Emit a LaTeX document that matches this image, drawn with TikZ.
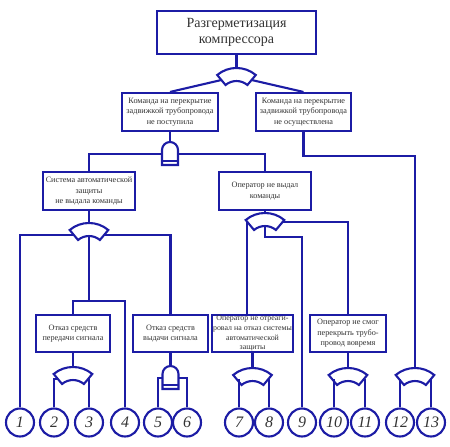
\documentclass[tikz,border=0pt]{standalone}
\usepackage{fontspec}
\setmainfont{Liberation Serif}
\definecolor{treeblue}{RGB}{28,28,165}

\begin{document}
\begin{tikzpicture}[x=1pt, y=1pt,
    wire/.style={
        draw=treeblue,
        line width=2.1pt
    },
    event/.style={
        wire,
        fill=white,
        minimum height=38pt,
        inner sep=1pt,
        align=center,
        text=black!80,
        font=\fontsize{8.2}{10.5}\selectfont
    },
    topevent/.style={
        event,
        font=\fontsize{14}{16}\selectfont
    },
    leaf/.style={
        wire,
        circle,
        fill=white,
        minimum size=28pt,
        inner sep=0pt,
        text=black!80,
        font=\itshape\fontsize{16}{16}\selectfont
    },
    orgate/.pic={
        \draw[wire, fill=white] (-19.3,-7) arc[start angle=130, end angle=50, radius=30]
            -- (10.9,-17) arc[start angle=50, end angle=130, radius=17] -- cycle;
        \coordinate (-in) at (0,0);
        \coordinate (-out) at (0,-13);
        \coordinate (-sl) at (-15.1,-12);
        \coordinate (-sr) at (15.1,-12);
        \coordinate (-l) at (-17.6,-9);
        \coordinate (-r) at (17.6,-9);
    },
    andgate/.pic={
        \draw[wire, fill=white] (-8,-23) -- (-8,-8) arc[start angle=180, end angle=0, radius=8]
            -- (8,-23) -- cycle;
        \draw[wire] (-8,-19) -- (8,-19);
        \coordinate (-in) at (0,0);
        \coordinate (-sl) at (-8,-12);
        \coordinate (-sr) at (8,-12);
    }
]

\useasboundingbox (0,0) rectangle (450,-447);

%%%%%%%%%%%%%%%%%%%%%%%%
% Eventos
%%%%%%%%%%%%%%%%%%%%%%%%

% --- Evento superior ---
\node[topevent, minimum width=159pt, minimum height=43pt] (top) at (236.5,-32.5) {Разгерметизация\\компрессора};

% --- Nivel 2 ---
\node[event, minimum width=96pt] (cmdno) at (170,-112) {Команда на перекрытие\\задвижкой трубопровода\\не поступила};
\node[event, minimum width=95pt] (cmdfail) at (303.5,-112) {Команда на перекрытие\\задвижкой трубопровода\\не осуществлена};

% --- Nivel 3 ---
\node[event, minimum width=92pt] (autosys) at (89,-191) {Система автоматической\\защиты\\не выдала команды};
\node[event, minimum width=92pt] (opnocmd) at (265,-191) {Оператор не выдал\\команды};

% --- Nivel 4 ---
\node[event, minimum width=74pt, minimum height=37pt] (trans) at (73,-333.5) {Отказ средств\\передачи сигнала};
\node[event, minimum width=75pt, minimum height=37pt] (issue) at (170.5,-333.5) {Отказ средств\\выдачи сигнала};
\node[event, minimum width=81pt, minimum height=37pt, inner sep=0pt,
      font=\fontsize{7.9}{9.6}\selectfont] (opreact) at (252.5,-333.5) {Оператор не отреаги-\\ровал на отказ системы\\автоматической\\защиты};
\node[event, minimum width=76pt, minimum height=37pt] (opclose) at (348,-333.5) {Оператор не смог\\перекрыть трубо-\\провод вовремя};

%%%%%%%%%%%%%%%%%%%%%%%%
% Eventos básicos
%%%%%%%%%%%%%%%%%%%%%%%%

\node[leaf] (c1) at (20,-422.5) {1};
\node[leaf] (c2) at (54,-422.5) {2};
\node[leaf] (c3) at (89,-422.5) {3};
\node[leaf] (c4) at (125,-422.5) {4};
\node[leaf] (c5) at (158,-422.5) {5};
\node[leaf] (c6) at (187,-422.5) {6};
\node[leaf] (c7) at (239,-422.5) {7};
\node[leaf] (c8) at (269,-422.5) {8};
\node[leaf] (c9) at (302,-422.5) {9};
\node[leaf] (c10) at (334,-422.5) {10};
\node[leaf] (c11) at (365,-422.5) {11};
\node[leaf] (c12) at (400,-422.5) {12};
\node[leaf] (c13) at (431,-422.5) {13};

%%%%%%%%%%%%%%%%%%%%%%%%
% Puertas
%%%%%%%%%%%%%%%%%%%%%%%%

\pic (g1) at (236.5,-68) {orgate};
\pic (g2) at (170,-142) {andgate};
\pic (g3) at (89,-223) {orgate};
\pic (g4) at (265,-213) {orgate};
\pic (g5) at (73,-367) {orgate};
\pic (g6) at (170.5,-366) {andgate};
\pic (g7) at (252.5,-368) {orgate};
\pic (g8) at (348,-368) {orgate};
\pic (g9) at (415,-368) {orgate};

\coordinate (j3) at (89,-301);

%%%%%%%%%%%%%%%%%%%%%%%%
% Conexiones
%%%%%%%%%%%%%%%%%%%%%%%%

% --- Arriba ---
\draw[wire] (top.south) -- (g1-in);
\draw[wire] (g1-sl) -- (cmdno.north);
\draw[wire] (g1-sr) -- (cmdfail.north);

% --- Rama izquierda ---
\draw[wire] (cmdno.south) -- (g2-in);
\draw[wire] (g2-sl) -| (autosys.north);
\draw[wire] (g2-sr) -| (opnocmd.north);

\draw[wire] (autosys.south) -- (g3-in);
\draw[wire] (g3-sl) -| (c1.north);
\draw[wire] (g3-sr) -| (issue.north);
\draw[wire] (g3-out) -- (j3);
\draw[wire] (trans.north) |- (j3) -| (c4.north);

\draw[wire] (opnocmd.south) -- (g4-in);
\draw[wire] (g4-l) -- (g4-l |- opreact.north);
\draw[wire] (g4-out) -- ++(0,-11) -| (c9.north);
\draw[wire] (g4-r) -| (opclose.north);

% --- Rama derecha ---
\draw[wire] (cmdfail.south) -- ++(0,-24) -| (g9-in);

% --- Abajo ---
\draw[wire] (trans.south) -- (g5-in);
\draw[wire] (c2.north) |- (g5-sl);
\draw[wire] (c3.north) |- (g5-sr);

\draw[wire] (issue.south) -- (g6-in);
\draw[wire] (g6-sl) -| (c5.north);
\draw[wire] (g6-sr) -| (c6.north);

\draw[wire] (opreact.south) -- (g7-in);
\draw[wire] (c7.north) |- (g7-sl);
\draw[wire] (c8.north) |- (g7-sr);

\draw[wire] (opclose.south) -- (g8-in);
\draw[wire] (c10.north) |- (g8-sl);
\draw[wire] (c11.north) |- (g8-sr);

\draw[wire] (c12.north) |- (g9-sl);
\draw[wire] (c13.north) |- (g9-sr);

\end{tikzpicture}
\end{document}
